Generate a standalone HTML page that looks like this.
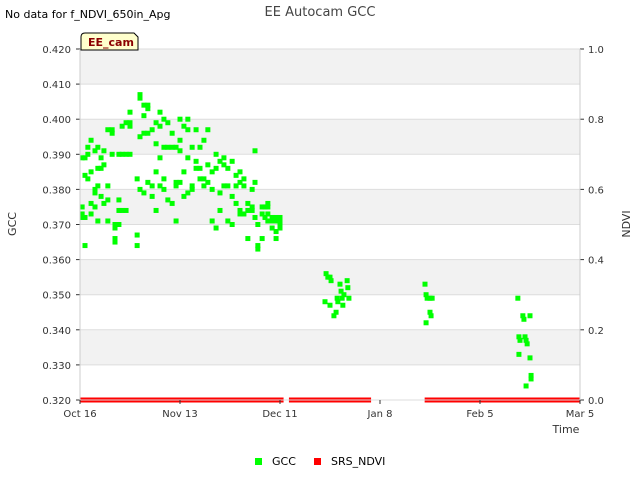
<!DOCTYPE html>
<html><head><meta charset="utf-8"><style>
body{margin:0;background:#fff;font-family:"Liberation Sans","DejaVu Sans",sans-serif}
svg text{font-family:"DejaVu Sans","Liberation Sans",sans-serif}
</style></head><body>
<svg id="c" width="640" height="480">
<text x="5" y="18" font-size="11" fill="#000">No data for f_NDVI_650in_Apg</text>
<text x="320" y="16" font-size="13" fill="#444" text-anchor="middle">EE Autocam GCC</text>
<g id="bg"></g><g id="grid"></g><g id="marks"></g><g id="axes"></g>
<g><path d="M81,50 L81,37 Q81,33 85,33 L134,33 L138,37 L138,50 Z" fill="#ffffcc" stroke="#000" stroke-width="1"/><text x="88" y="46" font-size="11" font-weight="bold" fill="#8b0000">EE_cam</text></g>
<text x="16" y="224" font-size="11" fill="#333" text-anchor="middle" transform="rotate(-90 16 224)">GCC</text>
<text x="630" y="224" font-size="11" fill="#333" text-anchor="middle" transform="rotate(-90 630 224)">NDVI</text>
<text x="566" y="433" font-size="11" fill="#333" text-anchor="middle">Time</text>
<g><rect x="255" y="458" width="7" height="7" fill="#00ff00"/><text x="272" y="465" font-size="11" fill="#000">GCC</text></g>
<g><rect x="314" y="458" width="7" height="7" fill="#ff0000"/><text x="331" y="465" font-size="11" fill="#000">SRS_NDVI</text></g>
</svg>
<script>
const xTickLabels=["Oct 16","Nov 13","Dec 11","Jan 8","Feb 5","Mar 5"];
const yTicks=[0.32,0.33,0.34,0.35,0.36,0.37,0.38,0.39,0.40,0.41,0.42];
const y2Ticks=[0,0.2,0.4,0.6,0.8,1.0];
const gccPx=[82,82,82,82,85,85,85,85,88,88,88,91,91,91,91,95,95,95,95,98,98,98,98,101,101,101,104,104,104,108,108,108,108,112,112,112,115,115,115,115,119,119,119,119,122,122,122,126,126,126,130,130,130,130,137,137,137,140,140,140,140,144,144,144,144,148,148,148,148,152,152,152,156,156,156,156,160,160,160,160,164,164,164,164,168,168,168,172,172,172,176,176,176,176,180,180,180,180,184,184,184,188,188,188,188,192,192,192,196,196,196,200,200,200,204,204,204,208,208,208,212,212,212,216,216,216,220,220,220,224,224,224,228,228,228,232,232,232,236,236,236,240,240,240,240,244,244,244,248,248,248,252,252,252,255,255,255,258,258,258,262,262,262,265,265,268,268,268,268,272,272,272,276,276,276,276,280,280,280,280,326,328,330,331,325,330,334,336,337,338,340,341,342,343,344,347,348,349,425,426,427,430,426,430,431,432,518,519,519,520,523,524,525,526,527,526,530,530,531,531];
const gccDays=gccPx.map(p=>+((p-80)*0.28).toFixed(1));
const gccValues=[0.389,0.375,0.373,0.372,0.384,0.364,0.389,0.372,0.392,0.383,0.390,0.394,0.385,0.373,0.376,0.380,0.379,0.391,0.375,0.392,0.386,0.381,0.371,0.389,0.386,0.378,0.387,0.391,0.376,0.397,0.377,0.371,0.381,0.397,0.396,0.390,0.370,0.366,0.365,0.369,0.390,0.374,0.377,0.370,0.398,0.390,0.374,0.399,0.390,0.374,0.398,0.402,0.390,0.399,0.383,0.364,0.367,0.407,0.406,0.395,0.380,0.401,0.396,0.404,0.379,0.404,0.396,0.382,0.403,0.397,0.381,0.378,0.399,0.393,0.385,0.374,0.402,0.398,0.389,0.381,0.392,0.400,0.383,0.380,0.399,0.392,0.377,0.396,0.392,0.376,0.371,0.381,0.382,0.392,0.400,0.394,0.391,0.382,0.398,0.378,0.385,0.400,0.389,0.397,0.379,0.380,0.392,0.381,0.397,0.388,0.386,0.386,0.383,0.392,0.394,0.383,0.381,0.397,0.382,0.387,0.380,0.371,0.385,0.369,0.386,0.390,0.374,0.379,0.388,0.389,0.387,0.381,0.371,0.381,0.386,0.370,0.378,0.388,0.384,0.376,0.381,0.385,0.382,0.374,0.373,0.383,0.381,0.373,0.376,0.374,0.366,0.380,0.375,0.374,0.391,0.382,0.372,0.364,0.363,0.370,0.375,0.366,0.373,0.375,0.372,0.376,0.375,0.373,0.371,0.372,0.369,0.371,0.366,0.371,0.372,0.368,0.370,0.372,0.371,0.369,0.356,0.355,0.355,0.354,0.348,0.347,0.344,0.345,0.349,0.348,0.353,0.351,0.349,0.347,0.350,0.354,0.352,0.349,0.353,0.350,0.349,0.349,0.342,0.345,0.344,0.349,0.349,0.338,0.333,0.337,0.344,0.343,0.338,0.337,0.336,0.324,0.344,0.332,0.327,0.326];
const ndviSegStart=[0,58.5,96.5];
const ndviSegEnd=[57,81.5,140];
const ndviValues=[0,0,0];
const L=80,R=580,T=49,B=400,NS="http://www.w3.org/2000/svg";
const xs=d=>L+(R-L)*d/140, ys=v=>B-(B-T)*(v-0.32)/0.1, y2=v=>B-(B-T)*v;
function el(t,a,p){const e=document.createElementNS(NS,t);for(const k in a)e.setAttribute(k,a[k]);document.getElementById(p).appendChild(e);return e;}
for(let i=0;i<yTicks.length-1;i++){ if(i%2===0) continue;
 const r=el('rect',{x:L,y:ys(yTicks[i+1]),width:R-L,height:ys(yTicks[i])-ys(yTicks[i+1]),fill:'#f2f2f2'},'bg');
 
 }
yTicks.forEach(v=>{const y=ys(v);
 el('line',{x1:L,x2:R,y1:y,y2:y,stroke:'#dddddd','stroke-width':1},'grid');
 el('line',{x1:L-4,x2:L,y1:y,y2:y,stroke:'#333'},'axes');
 const t=el('text',{x:L-9,y:y+4,'font-size':10,fill:'#333','text-anchor':'end'},'axes');t.textContent=v.toFixed(3);
 
 });
y2Ticks.forEach(v=>{const y=y2(v);
 el('line',{x1:R,x2:R+4,y1:y,y2:y,stroke:'#333'},'axes');
 const t=el('text',{x:R+8,y:y+4,'font-size':10,fill:'#333'},'axes');t.textContent=v.toFixed(1);
 
 });
xTickLabels.forEach((s,i)=>{const x=xs(i*28);
 el('line',{x1:x,x2:x,y1:B,y2:B+4,stroke:'#333'},'axes');
 const t=el('text',{x:x,y:B+17,'font-size':10,fill:'#333','text-anchor':'middle'},'axes');t.textContent=s;
 
 });
el('line',{x1:L,x2:L,y1:T,y2:B,stroke:'#ccc'},'axes');
el('line',{x1:R,x2:R,y1:T,y2:B,stroke:'#ccc'},'axes');
ndviSegStart.forEach((s,i)=>{const y=y2(ndviValues[i]);
 [y-1.5,y+1.5].forEach(yy=>{const l=el('line',{x1:xs(s),x2:xs(ndviSegEnd[i]),y1:yy,y2:yy,stroke:'#ff0000','stroke-width':2},'marks');
 
 });});
gccDays.forEach((d,i)=>{const r=el('rect',{x:xs(d)-2.5,y:ys(gccValues[i])-2.5,width:5,height:5,fill:'#00ff00'},'marks');
 
 });
</script>
</body></html>
